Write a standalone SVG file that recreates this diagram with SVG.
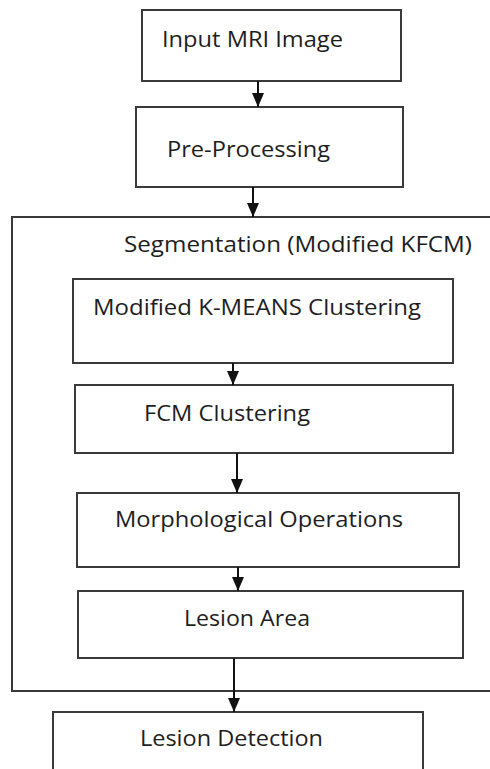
<svg xmlns="http://www.w3.org/2000/svg" width="490" height="769" viewBox="0 0 490 769">
  <defs>
    <marker id="arrow" markerWidth="14" markerHeight="12" refX="14" refY="6" orient="auto" markerUnits="userSpaceOnUse" viewBox="0 0 14 12">
      <path d="M0,0 L14,6 L0,12 Z" fill="#111"/>
    </marker>
  </defs>
  <style>
    .box { fill: #fff; stroke: #3a3a3a; stroke-width: 2; }
    .frame { fill: none; stroke: #3a3a3a; stroke-width: 2; }
    .label { font-family: "Open Sans", "Liberation Sans", sans-serif; font-size: 21px; fill: #1e1e1e; }
    .link { stroke: #111; stroke-width: 2; fill: none; marker-end: url(#arrow); }
  </style>
  <rect width="490" height="769" fill="#fff"/>

  <g id="input">
    <rect class="box" x="142" y="10" width="259" height="71"/>
    <text class="label" x="162" y="47" textLength="181" lengthAdjust="spacingAndGlyphs">Input MRI Image</text>
  </g>
  <g id="preprocessing">
    <rect class="box" x="136" y="107" width="267" height="80"/>
    <text class="label" x="167" y="157" textLength="163" lengthAdjust="spacingAndGlyphs">Pre-Processing</text>
  </g>
  <g id="segmentation">
    <path class="frame" d="M491,217 H12 V691 H491"/>
    <text class="label" x="124" y="252" textLength="348" lengthAdjust="spacingAndGlyphs">Segmentation (Modified KFCM)</text>
  </g>
  <g id="kmeans">
    <rect class="box" x="73" y="279" width="380" height="84"/>
    <text class="label" x="93" y="315" textLength="328" lengthAdjust="spacingAndGlyphs">Modified K-MEANS Clustering</text>
  </g>
  <g id="fcm">
    <rect class="box" x="75" y="385" width="378" height="68"/>
    <text class="label" x="144" y="421" textLength="166" lengthAdjust="spacingAndGlyphs">FCM Clustering</text>
  </g>
  <g id="morphology">
    <rect class="box" x="77" y="493" width="382" height="74"/>
    <text class="label" x="115" y="527" textLength="288" lengthAdjust="spacingAndGlyphs">Morphological Operations</text>
  </g>
  <g id="lesion-area">
    <rect class="box" x="78" y="591" width="385" height="67"/>
    <text class="label" x="184" y="626" textLength="126" lengthAdjust="spacingAndGlyphs">Lesion Area</text>
  </g>
  <g id="lesion-detection">
    <rect class="box" x="53" y="712" width="370" height="70"/>
    <text class="label" x="140" y="746" textLength="183" lengthAdjust="spacingAndGlyphs">Lesion Detection</text>
  </g>

  <g id="connectors">
    <line class="link" x1="258" y1="81" x2="258" y2="107"/>
    <line class="link" x1="253" y1="187" x2="253" y2="217"/>
    <line class="link" x1="233" y1="363" x2="233" y2="385"/>
    <line class="link" x1="237" y1="453" x2="237" y2="493"/>
    <line class="link" x1="238" y1="567" x2="238" y2="591"/>
    <line class="link" x1="234" y1="658" x2="234" y2="712"/>
  </g>
</svg>
